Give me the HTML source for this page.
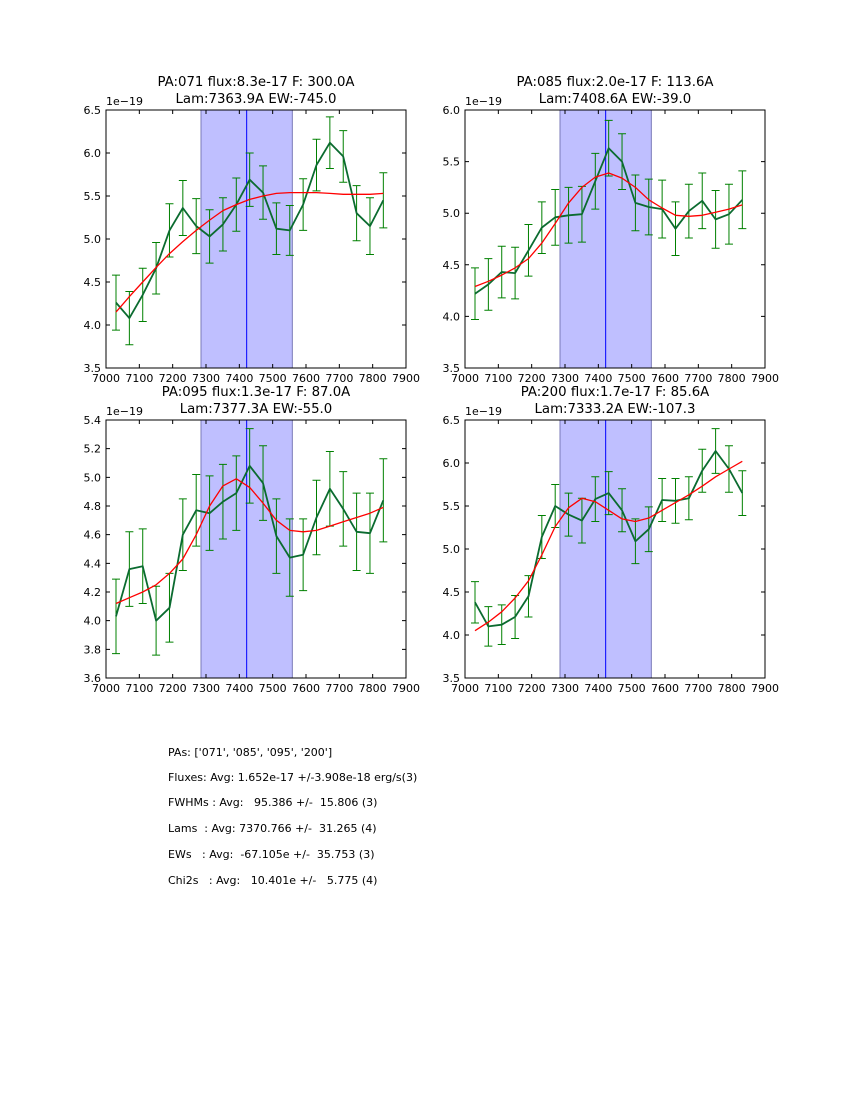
<!DOCTYPE html>
<html><head><meta charset="utf-8"><style>
html,body{margin:0;padding:0;background:#fff;}
svg{display:block;font-family:"DejaVu Sans","Liberation Sans",sans-serif;}
</style></head><body>
<svg id="fig" width="850" height="1100" viewBox="0 0 850 1100" xmlns="http://www.w3.org/2000/svg"></svg>
<script>
// ---- data ----
const nPts = 21;
const xStart = 7030;
const xStep = 40.1;
const titles1 = ["PA:071 flux:8.3e-17 F: 300.0A", "PA:085 flux:2.0e-17 F: 113.6A", "PA:095 flux:1.3e-17 F: 87.0A", "PA:200 flux:1.7e-17 F: 85.6A"];
const titles2 = ["Lam:7363.9A EW:-745.0", "Lam:7408.6A EW:-39.0", "Lam:7377.3A EW:-55.0", "Lam:7333.2A EW:-107.3"];
const yMins = [3.5, 3.5, 3.6, 3.5];
const yMaxs = [6.5, 6.0, 5.4, 6.5];
const yStepsTick = [0.5, 0.5, 0.2, 0.5];
const xTicks = [7000,7100,7200,7300,7400,7500,7600,7700,7800,7900];
const bandLo = 7285, bandHi = 7559, lineCenter = 7422;
const flux1 = [4.26,4.08,4.35,4.66,5.10,5.36,5.15,5.03,5.17,5.40,5.69,5.54,5.12,5.10,5.40,5.86,6.12,5.96,5.30,5.15,5.45];
const err1  = [0.32,0.31,0.31,0.30,0.31,0.32,0.32,0.31,0.31,0.31,0.31,0.31,0.30,0.29,0.30,0.30,0.30,0.30,0.32,0.33,0.32];
const fit1  = [4.15,4.33,4.50,4.67,4.83,4.97,5.10,5.22,5.33,5.40,5.46,5.50,5.53,5.54,5.54,5.54,5.53,5.52,5.52,5.52,5.53];
const flux2 = [4.22,4.31,4.43,4.42,4.64,4.86,4.96,4.98,4.99,5.31,5.63,5.50,5.10,5.06,5.04,4.85,5.02,5.12,4.94,4.99,5.13];
const err2  = [0.25,0.25,0.25,0.25,0.25,0.25,0.27,0.27,0.27,0.27,0.27,0.27,0.27,0.27,0.28,0.26,0.26,0.27,0.28,0.29,0.28];
const fit2  = [4.29,4.34,4.40,4.47,4.56,4.71,4.90,5.10,5.25,5.35,5.39,5.34,5.25,5.13,5.05,4.98,4.97,4.98,5.01,5.04,5.08];
const flux3 = [4.03,4.36,4.38,4.00,4.09,4.60,4.77,4.75,4.83,4.89,5.08,4.96,4.59,4.44,4.46,4.72,4.92,4.78,4.62,4.61,4.84];
const err3  = [0.26,0.26,0.26,0.24,0.24,0.25,0.25,0.26,0.26,0.26,0.26,0.26,0.26,0.27,0.25,0.26,0.26,0.26,0.27,0.28,0.29];
const fit3  = [4.12,4.16,4.20,4.25,4.33,4.43,4.60,4.80,4.94,4.99,4.93,4.82,4.70,4.63,4.62,4.63,4.66,4.69,4.72,4.75,4.79];
const flux4 = [4.38,4.10,4.12,4.21,4.45,5.14,5.50,5.40,5.33,5.58,5.65,5.45,5.09,5.23,5.57,5.56,5.59,5.91,6.14,5.93,5.65];
const err4  = [0.24,0.23,0.23,0.25,0.24,0.25,0.25,0.25,0.26,0.26,0.25,0.25,0.26,0.26,0.25,0.26,0.25,0.25,0.26,0.27,0.26];
const fit4  = [4.05,4.15,4.27,4.43,4.63,4.93,5.26,5.48,5.59,5.55,5.45,5.35,5.32,5.36,5.45,5.54,5.63,5.73,5.84,5.93,6.02];
const fluxes = [flux1, flux2, flux3, flux4];
const errs = [err1, err2, err3, err4];
const fits = [fit1, fit2, fit3, fit4];
const summaryLines = ["PAs: ['071', '085', '095', '200']","Fluxes: Avg: 1.652e-17 +/-3.908e-18 erg/s(3)","FWHMs : Avg:   95.386 +/-  15.806 (3)","Lams  : Avg: 7370.766 +/-  31.265 (4)","EWs   : Avg:  -67.105e +/-  35.753 (3)","Chi2s   : Avg:   10.401e +/-   5.775 (4)"];

// ---- drawing ----
const NS = "http://www.w3.org/2000/svg";
const svg = document.getElementById("fig");
function mk(tag, attrs, parent){
  const e = document.createElementNS(NS, tag);
  for (const k in attrs) e.setAttribute(k, attrs[k]);
  (parent||svg).appendChild(e);
  return e;
}
const panels = [[106,110],[465,110],[106,420],[465,420]];
const W = 300, H = 258;
const xMin = 7000, xMax = 7900;

panels.forEach((p, i) => {
  const [x0, y0] = p;
  const g = mk("g", {});
  
  
  const xs = v => x0 + (v - xMin) / (xMax - xMin) * W;
  const ys = v => y0 + H - (v - yMins[i]) / (yMaxs[i] - yMins[i]) * H;
  const band = mk("rect", {x: xs(bandLo), y: y0, width: xs(bandHi)-xs(bandLo), height: H, fill: "#bfbfff", stroke: "#7a7ab8", "stroke-width": 1}, g);
  
  
  const cl = mk("line", {x1: xs(lineCenter), x2: xs(lineCenter), y1: y0, y2: y0+H, stroke: "#0000ff", "stroke-width": 1}, g);
  
  
  const fl = fluxes[i], er = errs[i], ft = fits[i];
  for (let k = 0; k < nPts; k++) {
    const xv = xs(xStart + k * xStep);
    const yt = ys(fl[k] + er[k]), yb = ys(fl[k] - er[k]);
    const eb = mk("path", {d: `M${xv},${yt}V${yb}M${xv-4},${yt}H${xv+4}M${xv-4},${yb}H${xv+4}`, stroke: "#008000", "stroke-width": 1, fill: "none"}, g);
    
    
  }
  let d = "", df = "";
  for (let k = 0; k < nPts; k++) {
    const xv = xs(xStart + k * xStep);
    d += (k ? "L" : "M") + xv.toFixed(1) + "," + ys(fl[k]).toFixed(1);
    df += (k ? "L" : "M") + xv.toFixed(1) + "," + ys(ft[k]).toFixed(1);
  }
  const dl = mk("path", {d: d, stroke: "#0b6b30", "stroke-width": 1.8, fill: "none", "stroke-linejoin": "round"}, g);
  
  
  const fitl = mk("path", {d: df, stroke: "#ff0000", "stroke-width": 1.3, fill: "none", "stroke-linejoin": "round"}, g);
  
  
  const fr = mk("rect", {x: x0, y: y0, width: W, height: H, fill: "none", stroke: "#000", "stroke-width": 1}, g);
  
  
  xTicks.forEach(t => {
    const xv = xs(t);
    mk("path", {d: `M${xv},${y0+H}v-4M${xv},${y0}v4`, stroke: "#000", "stroke-width": 1}, g);
    const tl = mk("text", {x: xv, y: y0+H+14, "font-size": 11, "text-anchor": "middle"}, g);
    tl.textContent = t;
    
    
  });
  const nT = Math.round((yMaxs[i]-yMins[i]) / yStepsTick[i]);
  for (let k = 0; k <= nT; k++) {
    const v = yMins[i] + k * yStepsTick[i];
    const yv = ys(v);
    mk("path", {d: `M${x0},${yv}h4M${x0+W},${yv}h-4`, stroke: "#000", "stroke-width": 1}, g);
    const tl = mk("text", {x: x0-5, y: yv+4, "font-size": 11, "text-anchor": "end"}, g);
    tl.textContent = v.toFixed(1);
    
    
  }
  const off = mk("text", {x: x0, y: y0-5, "font-size": 11}, g);
  off.textContent = "1e\u221219";
  
  
  const t1 = mk("text", {x: x0+W/2, y: y0-24, "font-size": 13.3, "text-anchor": "middle"}, g);
  t1.textContent = titles1[i];
  
  
  const t2 = mk("text", {x: x0+W/2, y: y0-7, "font-size": 13.3, "text-anchor": "middle"}, g);
  t2.textContent = titles2[i];
  
  
});

const lineYs = [756, 781, 806, 832, 858, 884];
summaryLines.forEach((s, k) => {
  const t = mk("text", {x: 168, y: lineYs[k], "font-size": 11, "xml:space": "preserve", style: "white-space:pre"});
  t.textContent = s;
  
  
});
</script>
</body></html>
